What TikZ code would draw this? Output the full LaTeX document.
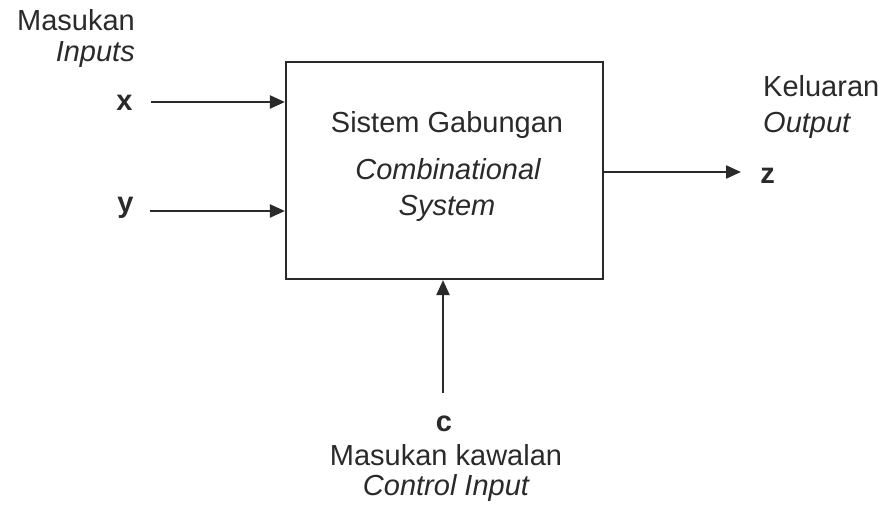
\documentclass[tikz,border=0pt]{standalone}
\usepackage{fontspec}
\setmainfont{Liberation Sans}
\usetikzlibrary{arrows.meta}
\definecolor{ink}{HTML}{2A2A2A}
\begin{document}
\begin{tikzpicture}[x=1pt,y=-1pt,
  lbl/.style={inner sep=0pt,text=ink,font=\fontsize{29}{34}\selectfont},
  ilbl/.style={lbl,font=\fontsize{29}{34}\selectfont\itshape},
  blbl/.style={lbl,font=\fontsize{29}{34}\selectfont\bfseries},
  sysbox/.style={draw=ink,line width=2.2pt,minimum width=317pt,minimum height=217pt,inner sep=0pt},
  arr/.style={draw=ink,line width=2.2pt,-{Triangle[length=15pt,width=13pt]}}]
\useasboundingbox (0,0) rectangle (886,505);
% box
\node[sysbox] (sys) at (444.5,170.5) {};
\node[lbl,anchor=base] (t1) at (447,133) {Sistem Gabungan};
\node[ilbl,anchor=base] (t2) at (448,180) {Combinational};
\node[ilbl,anchor=base] (t3) at (447,215) {System};
% inputs
\node[lbl,anchor=base east] (masukan) at (135,31) {Masukan};
\node[ilbl,anchor=base east] (inputs) at (135,62) {Inputs};
\node[blbl,anchor=base] (xl) at (124.5,111) {x};
\node[blbl,anchor=base] (yl) at (125.5,213) {y};
\coordinate (xs) at (151,102);
\coordinate (ys) at (150,211);
\draw[arr] (xs) -- (sys.west |- xs);
\draw[arr] (ys) -- (sys.west |- ys);
% output
\node[lbl,anchor=base west] (kel) at (763,97) {Keluaran};
\node[ilbl,anchor=base west] (outp) at (763,133) {Output};
\node[blbl,anchor=base] (zl) at (767.5,184) {z};
\coordinate (ze) at (741,172);
\draw[arr] (sys.east |- ze) -- (ze);
% control
\coordinate (cs) at (443,393);
\draw[arr] (cs) -- (sys.south -| cs);
\node[blbl,anchor=base] (cl) at (444,431) {c};
\node[lbl,anchor=base] (mk) at (446,465) {Masukan kawalan};
\node[ilbl,anchor=base] (ci) at (446,495) {Control Input};
\end{tikzpicture}
\end{document}
